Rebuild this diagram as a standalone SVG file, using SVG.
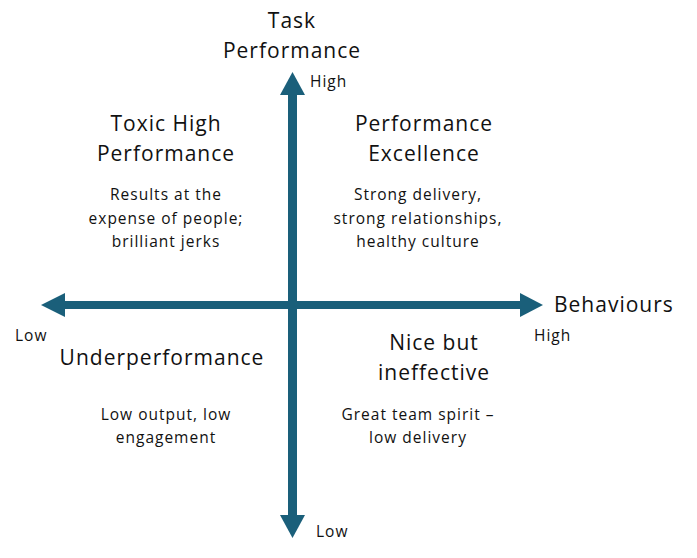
<svg xmlns="http://www.w3.org/2000/svg" width="697" height="558" viewBox="0 0 697 558">
<style>
text{font-family:"Open Sans","Liberation Sans",sans-serif;fill:#111;letter-spacing:1px}
.t{font-size:21px;text-anchor:middle}
.d{font-size:15.5px;text-anchor:middle}
.s{font-size:15.5px}
.ax{fill:#1a5f7a}
</style>
<rect width="697" height="558" fill="#fff"/>
<g id="connectors">
<rect class="ax" x="288" y="92" width="9" height="426"/>
<polygon class="ax" points="292.5,72 280,95 305,95"/>
<polygon class="ax" points="292.5,538 280,515 305,515"/>
<rect class="ax" x="62" y="301" width="462" height="8"/>
<polygon class="ax" points="41,305 65,293 65,317"/>
<polygon class="ax" points="543,305 520,293 520,317"/>
</g>
<g id="axis-y-title"><text class="t" x="292" y="28">Task</text><text class="t" x="292" y="58">Performance</text></g>
<g id="y-high"><text class="s" x="310" y="87">High</text></g>
<g id="y-low"><text class="s" x="316" y="537">Low</text></g>
<g id="axis-x-title"><text style="font-size:21px" x="554" y="312">Behaviours</text></g>
<g id="x-high"><text class="s" x="534" y="341">High</text></g>
<g id="x-low"><text class="s" x="15" y="341">Low</text></g>
<g id="q-toxic">
<text class="t" x="166" y="131">Toxic High</text><text class="t" x="166" y="161">Performance</text>
<text class="d" x="166" y="200">Results at the</text><text class="d" x="166" y="224">expense of people;</text><text class="d" x="166" y="247">brilliant jerks</text>
</g>
<g id="q-excellence">
<text class="t" x="424" y="131">Performance</text><text class="t" x="424" y="161">Excellence</text>
<text class="d" x="418" y="200">Strong delivery,</text><text class="d" x="418" y="224">strong relationships,</text><text class="d" x="418" y="247">healthy culture</text>
</g>
<g id="q-under">
<text class="t" x="162" y="365">Underperformance</text>
<text class="d" x="166" y="420">Low output, low</text><text class="d" x="166" y="443">engagement</text>
</g>
<g id="q-nice">
<text class="t" x="434" y="350">Nice but</text><text class="t" x="434" y="380">ineffective</text>
<text class="d" x="418" y="420">Great team spirit –</text><text class="d" x="418" y="443">low delivery</text>
</g>
</svg>
